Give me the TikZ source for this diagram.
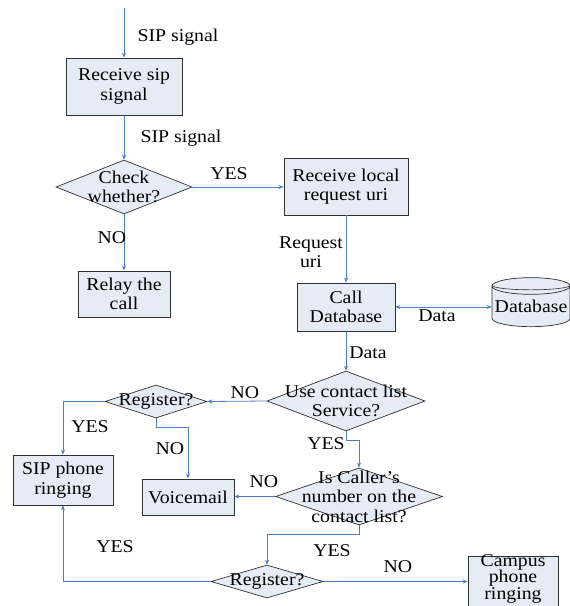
\documentclass[tikz,border=0pt]{standalone}
\usepackage{fontspec}
\setmainfont{Liberation Serif}[FakeStretch=1.1]
\usetikzlibrary{shapes.geometric,arrows.meta}
\definecolor{boxfill}{HTML}{E6ECF5}
\definecolor{linkblue}{HTML}{4A7EC8}
\definecolor{edgegray}{HTML}{303030}

\begin{document}
\begin{tikzpicture}[x=1pt, y=-1pt, font=\fontsize{18}{19.5}\selectfont]
\tikzset{proc/.style={draw=edgegray, fill=boxfill, inner sep=0pt, align=center, line width=0.8pt},
  dec/.style={diamond, draw=edgegray, fill=boxfill, inner sep=0pt, line width=0.7pt},
  link/.style={draw=linkblue, line width=0.8pt, -{Stealth[length=5pt,width=4pt]}},
  tag/.style={inner sep=0pt, align=center}}
\useasboundingbox (0,0) rectangle (570,606);
\clip (0,0) rectangle (570,606);

% boxes
\node[proc, minimum width=116pt, minimum height=57pt] (recv) at (124,86.5) {Receive sip\\signal};
\node[proc, minimum width=92pt, minimum height=46pt] (relay) at (124,294) {Relay the\\call};
\node[proc, minimum width=124pt, minimum height=57pt] (rlr) at (346,186.5) {Receive local\\request uri};
\node[proc, minimum width=98pt, minimum height=48pt] (cdb) at (346,307) {Call\\Database};
\node[proc, minimum width=100pt, minimum height=50pt] (sip) at (63,480) {SIP phone\\ringing};
\node[proc, minimum width=92pt, minimum height=36pt] (vm) at (188,497) {Voicemail};
\node[proc, minimum width=90pt, minimum height=54pt] (camp) at (513,583) {};
\node[tag, font=\fontsize{18}{16.5}\selectfont] (camptext) at (513,578.5) {Campus\\phone\\ringing};
\node[cylinder, shape border rotate=90, aspect=0.23, draw=edgegray, fill=boxfill, line width=0.7pt,
  inner sep=0pt, minimum width=78pt, minimum height=49pt] (db) at (531,306.5) {Database};
\draw[edgegray, line width=0.6pt] ([shift={(-39pt,-8pt)}]db.north) arc[start angle=180, end angle=360, x radius=39pt, y radius=4.5pt];

% decisions
\node[dec, minimum width=136pt, minimum height=54pt, label={[tag]center:Check\\whether?}] (d1) at (124,187) {};
\node[dec, minimum width=158pt, minimum height=60pt, label={[tag]center:Use contact list\\Service?}] (d2) at (346,401) {};
\node[dec, minimum width=167pt, minimum height=57pt, label={[tag]center:Is Caller’s\\number on the\\contact list?}] (d3) at (359,496.5) {};
\node[dec, minimum width=102pt, minimum height=33pt, label={[tag]center:Register?}] (reg1) at (156,401.5) {};
\node[dec, minimum width=112pt, minimum height=33pt, label={[tag]center:Register?}] (reg2) at (267,581.5) {};

% connectors
\coordinate (in) at (124,8);
\draw[link] (in) -- (recv);
\draw[link] (recv) -- (d1);
\draw[link] (d1.east) -- (d1.east -| rlr.west);
\draw[link] (d1) -- (relay);
\draw[link] (rlr) -- (cdb);
\draw[link, {Stealth[length=5pt,width=4pt]}-{Stealth[length=5pt,width=4pt]}] (cdb.east) -- (cdb.east -| db.west);
\draw[link] (cdb) -- (d2);
\draw[link] (d2.west) -- (reg1.east);
\draw[link] (reg1.west) -| (sip.north);
\draw[link] (reg1.south) -- ++(0,9) -| (vm.north);
\draw[link] (d2.south) -- ++(0,9) -| (d3.north);
\draw[link] (d3.west) -- (d3.west -| vm.east);
\draw[link] (d3.south) -- ++(0,9) -| (reg2.north);
\draw[link] (reg2.west) -| (sip.south);
\draw[link] (reg2.east) -- (reg2.east -| camp.west);

% labels
\node[tag] (t1) at (178,37) {SIP signal};
\node[tag] (t2) at (181,138) {SIP signal};
\node[tag] (t3) at (229,174) {YES};
\node[tag] (t4) at (112,238) {NO};
\node[tag] (t5) at (311,252) {Request\\uri};
\node[tag] (t6) at (437,316) {Data};
\node[tag] (t7) at (368,353) {Data};
\node[tag] (t8) at (245,393) {NO};
\node[tag] (t9) at (90,427) {YES};
\node[tag] (t10) at (170,449) {NO};
\node[tag] (t11) at (326,444) {YES};
\node[tag] (t12) at (264,482) {NO};
\node[tag] (t13) at (332,551) {YES};
\node[tag] (t14) at (115,547) {YES};
\node[tag] (t15) at (398,567) {NO};
\end{tikzpicture}
\end{document}
